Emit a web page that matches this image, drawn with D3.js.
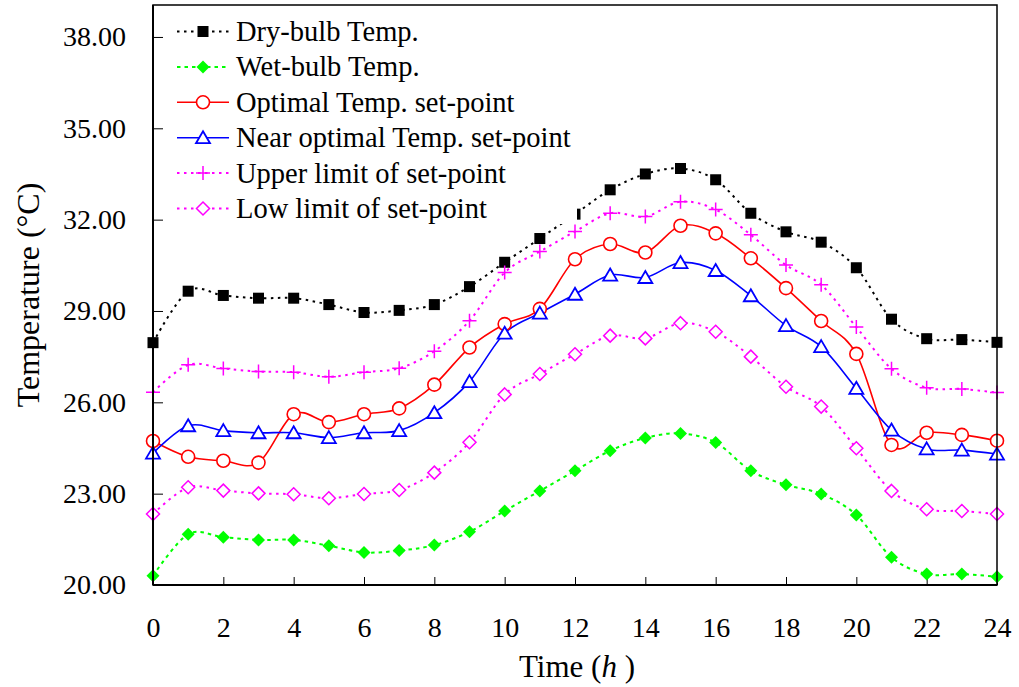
<!DOCTYPE html>
<html>
<head>
<meta charset="utf-8">
<script src="https://cdn.jsdelivr.net/npm/d3@7"></script>
<style>
  html, body { margin: 0; padding: 0; background: #fff; }
  svg { display: block; }
  text { font-family: "Liberation Serif", "Times New Roman", serif; fill: #000; }
</style>
</head>
<body>
<svg id="chart" width="1019" height="687"></svg>
<script>
// Hourly temperatures over one day (°C)
const hours = [0, 1, 2, 3, 4, 5, 6, 7, 8, 9, 10, 11, 12, 13, 14, 15, 16, 17, 18, 19, 20, 21, 22, 23, 24];
const dryBulb = [27.96, 29.65, 29.51, 29.42, 29.42, 29.21, 28.95, 29.02, 29.21, 29.80, 30.60, 31.38, 32.18, 32.98, 33.50, 33.68, 33.31, 32.21, 31.60, 31.26, 30.42, 28.73, 28.09, 28.06, 27.97];
const wetBulb = [20.30, 21.67, 21.57, 21.48, 21.48, 21.29, 21.07, 21.13, 21.31, 21.75, 22.43, 23.09, 23.75, 24.41, 24.83, 24.98, 24.68, 23.75, 23.29, 22.99, 22.30, 20.91, 20.36, 20.36, 20.27];
const optimal = [24.73, 24.21, 24.08, 24.02, 25.61, 25.35, 25.61, 25.80, 26.58, 27.80, 28.57, 29.07, 30.70, 31.20, 30.92, 31.80, 31.55, 30.73, 29.75, 28.67, 27.59, 24.60, 25.00, 24.93, 24.74];
const nearOptimal = [24.33, 25.23, 25.07, 25.00, 25.00, 24.84, 25.00, 25.07, 25.66, 26.68, 28.27, 28.93, 29.55, 30.18, 30.10, 30.59, 30.33, 29.50, 28.52, 27.83, 26.46, 25.09, 24.47, 24.43, 24.30];
const upperLimit = [26.33, 27.23, 27.11, 27.01, 26.99, 26.84, 26.99, 27.12, 27.68, 28.68, 30.26, 30.95, 31.61, 32.21, 32.10, 32.59, 32.33, 31.50, 30.51, 29.86, 28.47, 27.10, 26.48, 26.44, 26.32];
const lowLimit = [22.33, 23.21, 23.10, 23.01, 22.98, 22.85, 22.99, 23.12, 23.69, 24.69, 26.26, 26.93, 27.58, 28.19, 28.10, 28.60, 28.32, 27.50, 26.51, 25.86, 24.49, 23.09, 22.49, 22.43, 22.33];

const seriesNames = ["Dry-bulb Temp.", "Wet-bulb Temp.", "Optimal Temp. set-point",
                     "Near optimal Temp. set-point", "Upper limit of set-point", "Low limit of set-point"];
const xTicks = [0, 2, 4, 6, 8, 10, 12, 14, 16, 18, 20, 22, 24];
const yTicks = [20, 23, 26, 29, 32, 35, 38];

// Plot frame
const frame = { left: 153, right: 997, top: 5, bottom: 585 };
const svg = d3.select("#chart");

const x = d3.scaleLinear().domain([0, 24]).range([frame.left, frame.right]);
const y = d3.scaleLinear().domain([20, 39.05]).range([frame.bottom, frame.top]);

// Marker shapes
const markers = {
  square: g => g.append("rect").attr("x", -5.5).attr("y", -5.5).attr("width", 11).attr("height", 11).attr("fill", "#000"),
  fdiamond: g => g.append("path").attr("d", "M0,-6.5L6.5,0L0,6.5L-6.5,0Z").attr("fill", "#00ff00"),
  circle: g => g.append("circle").attr("r", 6.5).attr("fill", "#fff").attr("stroke", "#ff0000").attr("stroke-width", 1.6),
  triangle: g => g.append("path").attr("d", "M0,-6.5L7,5.5L-7,5.5Z").attr("fill", "#fff").attr("stroke", "#0000ff").attr("stroke-width", 1.8),
  plus: g => g.append("path").attr("d", "M-7,0H7M0,-7V7").attr("fill", "none").attr("stroke", "#ff00ff").attr("stroke-width", 1.5),
  odiamond: g => g.append("path").attr("d", "M0,-6.5L6.5,0L0,6.5L-6.5,0Z").attr("fill", "#fff").attr("stroke", "#ff00ff").attr("stroke-width", 1.5)
};

const series = [
  { name: seriesNames[0], values: dryBulb, color: "#000000", dash: "2.5,4.5", width: 2, marker: "square" },
  { name: seriesNames[1], values: wetBulb, color: "#00ff00", dash: "3.5,4", width: 2, marker: "fdiamond" },
  { name: seriesNames[2], values: optimal, color: "#ff0000", dash: null, width: 1.6, marker: "circle" },
  { name: seriesNames[3], values: nearOptimal, color: "#0000ff", dash: null, width: 1.6, marker: "triangle" },
  { name: seriesNames[4], values: upperLimit, color: "#ff00ff", dash: "2.5,4.5", width: 2, marker: "plus" },
  { name: seriesNames[5], values: lowLimit, color: "#ff00ff", dash: "2.5,4.5", width: 2, marker: "odiamond" }
];

// Axes with inward ticks
const yAxis = d3.axisLeft(y).tickValues(yTicks).tickSizeInner(-10).tickSizeOuter(0)
  .tickPadding(27).tickFormat(d3.format(".2f"));
const xAxis = d3.axisBottom(x).tickValues(xTicks).tickSizeInner(-8).tickSizeOuter(0)
  .tickPadding(32).tickFormat(d3.format("d"));

const gy = svg.append("g").attr("transform", `translate(${frame.left},0)`).call(yAxis);
const gx = svg.append("g").attr("transform", `translate(0,${frame.bottom})`).call(xAxis);
[gx, gy].forEach(g => {
  g.select(".domain").remove();
  g.selectAll(".tick line").attr("stroke", "#000").attr("stroke-width", 1);
  g.selectAll(".tick text").attr("font-size", 28).attr("font-family", '"Liberation Serif", serif').attr("fill", "#000");
});

// Smoothed series lines
const line = d3.line()
  .x((d, i) => x(hours[i]))
  .y(d => y(d))
  .curve(d3.curveCatmullRom.alpha(0));

const plot = svg.append("g");
series.forEach(s => {
  plot.append("path")
    .attr("d", line(s.values))
    .attr("fill", "none")
    .attr("stroke", s.color)
    .attr("stroke-width", s.width)
    .attr("stroke-dasharray", s.dash);
});
series.forEach(s => {
  s.values.forEach((v, i) => {
    const g = plot.append("g").attr("transform", `translate(${x(hours[i])},${y(v)})`);
    markers[s.marker](g);
  });
});

// Frame
svg.append("rect")
  .attr("x", frame.left).attr("y", frame.top)
  .attr("width", frame.right - frame.left).attr("height", frame.bottom - frame.top)
  .attr("fill", "none").attr("stroke", "#000").attr("stroke-width", 1.5);
svg.append("line").attr("x1", frame.left).attr("x2", frame.left).attr("y1", frame.top).attr("y2", frame.bottom)
  .attr("stroke", "#000").attr("stroke-width", 2);
svg.append("line").attr("x1", frame.left).attr("x2", frame.right).attr("y1", frame.bottom).attr("y2", frame.bottom)
  .attr("stroke", "#000").attr("stroke-width", 2);

// Legend on a white panel
const legend = svg.append("g");
legend.append("rect").attr("x", 165).attr("y", 12).attr("width", 412).attr("height", 212).attr("fill", "#fff");
series.forEach((s, i) => {
  const ly = 31.5 + i * 35.4;
  const row = legend.append("g").attr("transform", `translate(0,${ly})`);
  row.append("line").attr("x1", 177).attr("x2", 229).attr("y1", 0).attr("y2", 0)
    .attr("stroke", s.color).attr("stroke-width", s.width).attr("stroke-dasharray", s.dash);
  markers[s.marker](row.append("g").attr("transform", "translate(203,0)"));
  row.append("text").attr("x", 236).attr("y", 0).attr("dy", "0.33em")
    .attr("font-size", 28.5).text(s.name);
});

// Axis titles
const xt = svg.append("text").attr("x", 577).attr("y", 677).attr("text-anchor", "middle").attr("font-size", 31);
xt.append("tspan").text("Time (");
xt.append("tspan").attr("font-style", "italic").text("h");
xt.append("tspan").text(" )");

svg.append("text")
  .attr("transform", "translate(39,295) rotate(-90)")
  .attr("text-anchor", "middle").attr("font-size", 32)
  .text("Temperature (°C)");
</script>
</body>
</html>
